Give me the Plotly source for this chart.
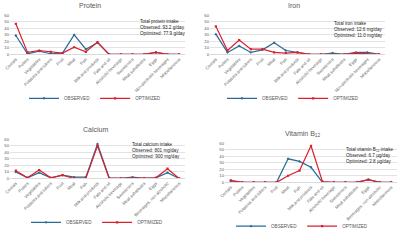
import plotly.graph_objects as go

categories_a = ["Cereals", "Pulses", "Vegetables", "Potatoes and tubers", "Fruit", "Meat", "Fish",
                "Milk and products", "Fats and oil", "Alcoholic beverage", "Sweeteners",
                "Meat substitutes", "Eggs", "Non-alcoholic beverages", "Miscellaneous"]
categories_b = ["Cereals", "Pulses", "Vegetables", "Potatoes and tubers", "Fruit", "Meat", "Fish",
                "Milk and products", "Fats and oil", "Alcoholic beverage", "Sweeteners",
                "Meat substitutes", "Eggs", "Beverages, non alcoholic", "Miscellaneous"]

protein_obs = [29, 1, 5, 1, 2, 30, 8, 18, 0, 0, 0, 0, 3, 0, 0]
protein_opt = [47, 3, 6, 4, 2, 11, 4, 19, 0, 0, 0, 0, 3, 0, 0]
iron_obs = [31, 3, 13, 3, 7, 18, 6, 3, 0, 0, 2, 0, 3, 3, 0]
iron_opt = [43, 6, 22, 8, 8, 3, 2, 3, 0, 0, 0, 0, 2, 1, 0]
calcium_obs = [10, 1, 9, 1, 5, 2, 2, 53, 1, 0, 2, 0, 1, 9, 0]
calcium_opt = [12, 1, 13, 1, 5, 0, 0, 50, 0, 0, 0, 0, 1, 15, 0]
b12_obs = [2, 0, 0, 0, 0, 36, 32, 23, 0, 0, 0, 0, 4, 0, 0]
b12_opt = [3, 0, 0, 0, 0, 10, 18, 56, 1, 0, 0, 0, 4, 0, 0]

y_ticks = [0, 10, 20, 30, 40, 50, 60]

titles = ["Protein", "Iron", "Calcium", "Vitamin B<sub>12</sub>"]
notes = [
    "Total protein intake<br>Observed: 93.2 g/day<br>Optimized: 77.9 g/day",
    "Total iron intake<br>Observed: 12.6 mg/day<br>Optimized: 11.0 mg/day",
    "Total calcium intake<br>Observed: 801 mg/day<br>Optimized: 900 mg/day",
    "Total vitamin B<sub>12</sub> intake<br>Observed: 6.7 µg/day<br>Optimized: 2.8 µg/day",
]

W, H = 400, 241
BLUE = "#2a6b98"
RED = "#d9202e"
FONT = "Liberation Sans"

panels = [
    dict(obs=protein_obs, opt=protein_opt, cats=categories_a, x=(10, 185), y=(16, 57),
         title=(90, 6), note=(138, 18), legend=(95, 103)),
    dict(obs=iron_obs, opt=iron_opt, cats=categories_a, x=(210, 385), y=(16, 57),
         title=(294, 6), note=(332, 20), legend=(293, 103)),
    dict(obs=calcium_obs, opt=calcium_opt, cats=categories_b, x=(10, 185), y=(146, 187),
         title=(95, 136), note=(130, 147), legend=(97, 233)),
    dict(obs=b12_obs, opt=b12_opt, cats=categories_b, x=(225, 397), y=(150, 191),
         title=(303, 140), note=(344, 152), legend=(302, 237)),
]

fig = go.Figure()
annotations = []
layout = dict(width=W, height=H, margin=dict(l=0, r=0, t=0, b=0),
              paper_bgcolor="white", plot_bgcolor="white",
              font=dict(family=FONT, size=4, color="#595959"))

for i, p in enumerate(panels):
    n = "" if i == 0 else str(i + 1)
    xa, ya = "x" + n, "y" + n
    leg = "legend" + n
    idx = list(range(len(p["cats"])))
    fig.add_trace(go.Scatter(x=idx, y=p["obs"], name="OBSERVED", mode="lines+markers",
                             line=dict(color=BLUE, width=1.2), marker=dict(size=2.2, color=BLUE, symbol="diamond"),
                             xaxis=xa, yaxis=ya, legend=leg))
    fig.add_trace(go.Scatter(x=idx, y=p["opt"], name="OPTIMIZED", mode="lines+markers",
                             line=dict(color=RED, width=1.2), marker=dict(size=2.2, color=RED, symbol="square"),
                             xaxis=xa, yaxis=ya, legend=leg))
    layout["xaxis" + n] = dict(domain=[p["x"][0] / W, p["x"][1] / W], anchor=ya,
                              range=[-0.5, len(idx) - 0.5], tickmode="array", tickvals=idx,
                              ticktext=p["cats"], tickangle=-45, showgrid=False,
                              showline=True, linecolor="#d9d9d9", linewidth=0.8, ticks="",
                              tickfont=dict(size=4.2, color="#595959"), zeroline=False, fixedrange=True,
                              automargin=False)
    layout["yaxis" + n] = dict(domain=[1 - p["y"][1] / H, 1 - p["y"][0] / H], anchor=xa,
                              range=[0, 60], tickvals=y_ticks, showgrid=True, gridcolor="#e3e3e3",
                              gridwidth=0.7, zeroline=False, showline=False, ticks="",
                              tickfont=dict(size=4.2, color="#595959"), fixedrange=True,
                              automargin=False)
    layout[leg] = dict(orientation="h", x=p["legend"][0] / W, y=1 - p["legend"][1] / H,
                       xanchor="center", yanchor="middle", font=dict(size=4.6, color="#595959"),
                       itemwidth=30, bgcolor="rgba(0,0,0,0)", tracegroupgap=0)
    annotations.append(dict(text=titles[i], x=p["title"][0] / W, y=1 - p["title"][1] / H,
                            xref="paper", yref="paper", showarrow=False, xanchor="center", yanchor="middle",
                            font=dict(size=7, color="#595959", family=FONT)))
    annotations.append(dict(text=notes[i], x=p["note"][0] / W, y=1 - p["note"][1] / H,
                            xref="paper", yref="paper", showarrow=False, xanchor="left", yanchor="top",
                            align="left", font=dict(size=4.6, color="#262626", family=FONT)))

layout["annotations"] = annotations
fig.update_layout(**layout)
fig.write_html("out.html", config={"displayModeBar": False},
               post_script="document.body.style.margin='0';")
